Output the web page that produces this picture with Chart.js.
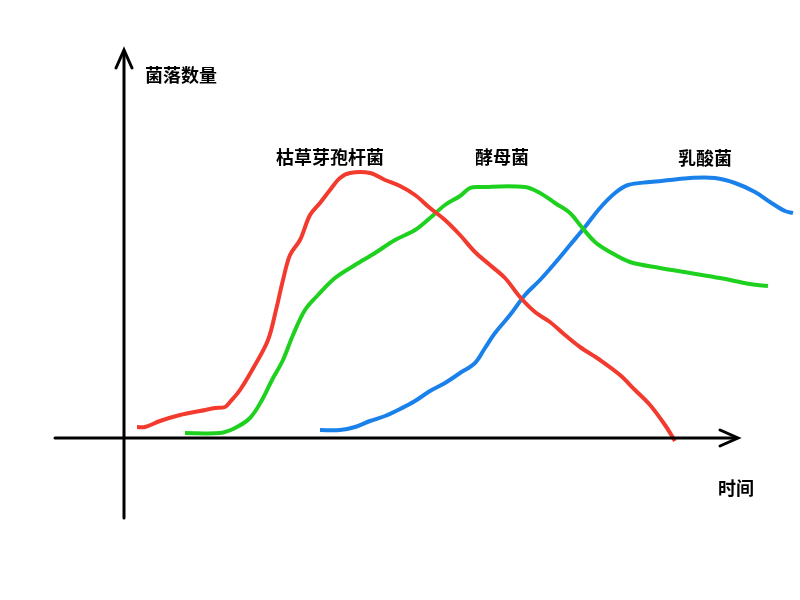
<!DOCTYPE html>
<html><head><meta charset="utf-8">
<script src="https://cdn.jsdelivr.net/npm/chart.js@4"></script>
<style>body{margin:0;background:#fff}</style>
</head><body>
<canvas id="c" width="800" height="600"></canvas>
<script>
// values: time (x) and colony count (y), in picture units from origin
const redX=[13,21,36,56,76,91,101,106,116,131,144,152,159,166,176,186,196,206,216,226,246,261,276,291,306,321,336,351,366,381,396,411,426,441,456,476,496,511,526,541,551];
const redY=[11,11,17,23,27,30,31,36,48,73,98,128,158,183,198,223,235,248,260,265,265,258,252,243,230,218,203,186,173,160,141,126,116,103,91,78,63,48,33,13,-3];
const greenX=[61,96,111,126,138,148,159,169,181,194,211,231,251,271,291,306,321,336,346,356,401,416,431,446,456,471,486,506,536,566,596,626,644];
const greenY=[5,5,10,20,38,58,78,103,128,143,160,173,185,198,208,220,233,242,250,251,251,245,235,225,213,196,186,176,170,165,160,154,152];
const blueX=[196,216,231,246,261,276,291,306,321,336,351,361,371,386,401,416,431,446,461,476,491,504,526,546,566,591,611,631,646,661,669];
const blueY=[8,8,11,17,22,29,37,47,55,65,75,90,105,123,143,158,175,193,211,230,245,253,256,258,260,260,255,246,236,227,225];
const seriesNames=['枯草芽孢杆菌','酵母菌','乳酸菌'];
const labelPos=[[206,281],[378,281],[581,280]];
const colors=['#f23a2e','#1fd11f','#1a80ea'];
const toPts=(xs,ys)=>xs.map((x,i)=>({x,y:ys[i]}));
const deco={id:'deco',afterDraw(ch){
 const c=ch.ctx,X=ch.scales.x,Y=ch.scales.y;
 const px=v=>X.getPixelForValue(v),py=v=>Y.getPixelForValue(v);
 c.save();c.strokeStyle='#000';c.fillStyle='#000';c.lineWidth=3;c.lineCap='round';
 const ox=px(0),oy=py(0);
 c.beginPath();c.moveTo(ox,py(-80));c.lineTo(ox,py(385));c.stroke();
 c.beginPath();c.moveTo(ox-8,py(370));c.lineTo(ox,py(388));c.lineTo(ox+8,py(370));c.stroke();
 c.beginPath();c.moveTo(px(-69),oy);c.lineTo(px(612),oy);c.stroke();
 c.beginPath();c.moveTo(px(596),oy-8);c.lineTo(px(614),oy);c.lineTo(px(596),oy+8);c.stroke();
 c.font='bold 18px "Noto Sans CJK SC"';c.textBaseline='middle';
 c.textAlign='left';c.fillText('菌落数量',px(21),py(363));
 c.fillText('时间',px(594),py(-50));
 c.textAlign='center';
 seriesNames.forEach((n,i)=>c.fillText(n,px(labelPos[i][0]),py(labelPos[i][1])));
 c.restore();}};
new Chart(document.getElementById('c'),{type:'line',
 data:{datasets:[[redX,redY],[greenX,greenY],[blueX,blueY]].map((d,i)=>({label:seriesNames[i],data:toPts(d[0],d[1]),borderColor:colors[i],borderWidth:4,pointRadius:0,tension:0.35,fill:false}))},
 options:{responsive:false,animation:false,layout:{padding:0},
  plugins:{legend:{display:false},tooltip:{enabled:false}},
  scales:{x:{type:'linear',min:-124,max:676,display:false},y:{min:-162,max:438,display:false}}},
 plugins:[deco]});
</script>
</body></html>
